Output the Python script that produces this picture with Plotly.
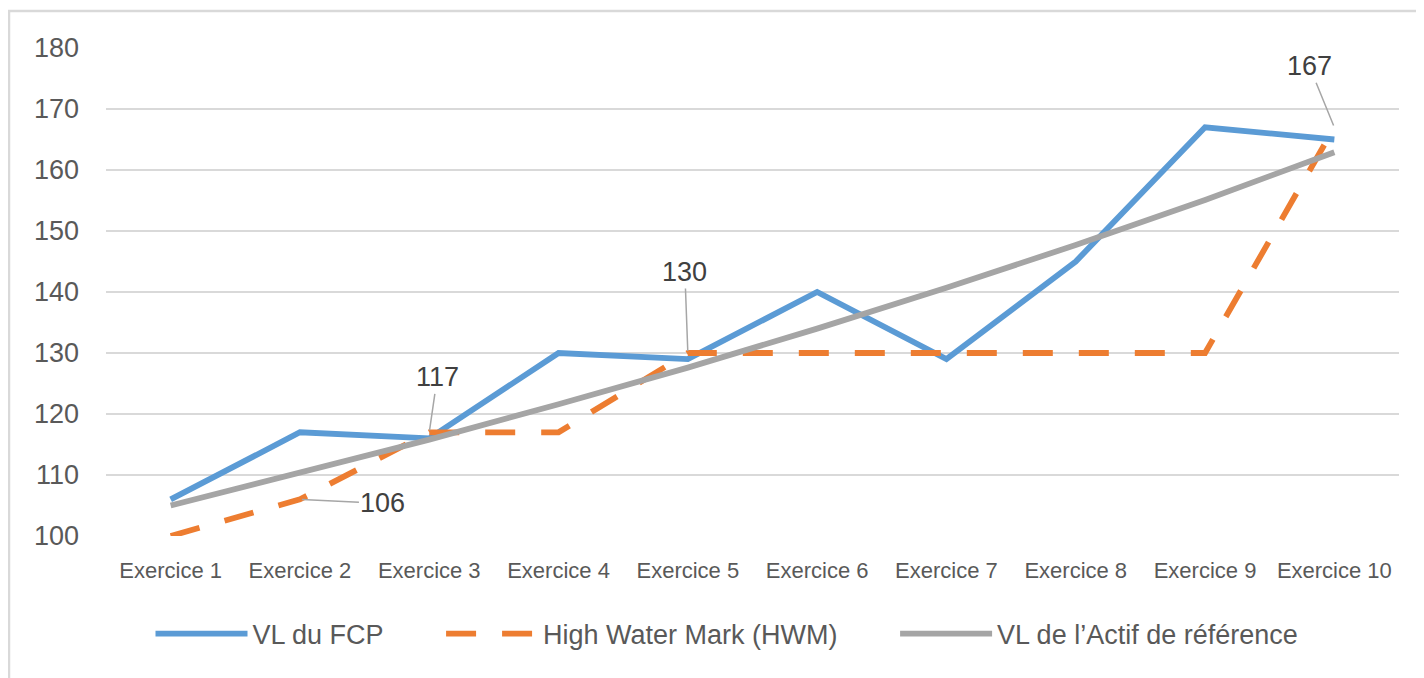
import plotly.graph_objects as go

categories = ["Exercice 1", "Exercice 2", "Exercice 3", "Exercice 4", "Exercice 5",
              "Exercice 6", "Exercice 7", "Exercice 8", "Exercice 9", "Exercice 10"]
vl_fcp = [106, 117, 116, 130, 129, 140, 129, 145, 167, 165]
hwm = [100, 106, 117, 117, 130, 130, 130, 130, 130, 167]
vl_ref = [105, 110.3, 115.8, 121.6, 127.6, 134.0, 140.7, 147.7, 155.1, 162.9]
y_ticks = [100, 110, 120, 130, 140, 150, 160, 170, 180]
series_names = ["VL du FCP", "High Water Mark (HWM)", "VL de l\u2019Actif de référence"]

# labelled HWM points: (category index, x offset px, y offset px)
labels = [(1, 83, 4), (2, 8, -55), (4, -3, -81), (9, -25, -61)]

# page body has an 8px margin, so the figure is drawn 8px in from the window edge
OFF = 8
W, H = 1424 - OFF, 678 - OFF
ml, mr, mt, mb = 106 - OFF, 25, 48 - OFF, 142
pw, ph = W - ml - mr, H - mt - mb

FONT = "Liberation Sans"
TXT = "#595959"
PAD = "\u00a0" * 7

fig = go.Figure()
fig.add_trace(go.Scatter(x=categories, y=vl_fcp, mode="lines", name=series_names[0] + PAD,
                         line=dict(color="#5B9BD5", width=5.8)))
fig.add_trace(go.Scatter(x=categories, y=hwm, mode="lines", name=series_names[1] + PAD,
                         line=dict(color="#ED7D31", width=5.8, dash="30px,26px")))
fig.add_trace(go.Scatter(x=categories, y=vl_ref, mode="lines", name=series_names[2],
                         line=dict(color="#A5A5A5", width=5.8)))

for idx, ax, ay in labels:
    fig.add_annotation(x=categories[idx], y=hwm[idx], text=str(hwm[idx]),
                       showarrow=True, arrowhead=0, arrowwidth=1.5, arrowcolor="#A6A6A6",
                       ax=ax, ay=ay, standoff=2,
                       font=dict(family=FONT, size=27, color="#404040"))

def px_x(p):
    # window pixel -> paper x
    return (p - OFF - ml) / pw

def px_y(p):
    # window pixel -> paper y
    return (H - mb - (p - OFF)) / ph

fig.add_shape(type="rect", xref="paper", yref="paper",
              x0=px_x(9), x1=px_x(1440), y0=px_y(700), y1=px_y(11),
              line=dict(color="#D9D9D9", width=2.5), fillcolor="rgba(0,0,0,0)", layer="below")

fig.update_layout(
    width=W, height=H,
    margin=dict(l=ml, r=mr, t=mt, b=mb),
    paper_bgcolor="white", plot_bgcolor="white",
    font=dict(family=FONT, color=TXT),
    showlegend=True,
    legend=dict(orientation="h", x=px_x(727), xanchor="center", y=px_y(634), yanchor="middle",
                font=dict(family=FONT, size=27, color=TXT), itemwidth=92,
                bgcolor="rgba(0,0,0,0)"),
    xaxis=dict(type="category", range=[-0.5, len(categories) - 0.5], showgrid=False,
               showline=False, zeroline=False, ticks="", ticklabelstandoff=19,
               tickfont=dict(family=FONT, size=22, color=TXT)),
    yaxis=dict(range=[100, 180], tickvals=y_ticks, showgrid=True, gridcolor="#D9D9D9",
               gridwidth=2, zeroline=False, showline=False, ticks="", ticklabelstandoff=26,
               tickfont=dict(family=FONT, size=27, color=TXT)),
)

fig.write_html("out.html")
